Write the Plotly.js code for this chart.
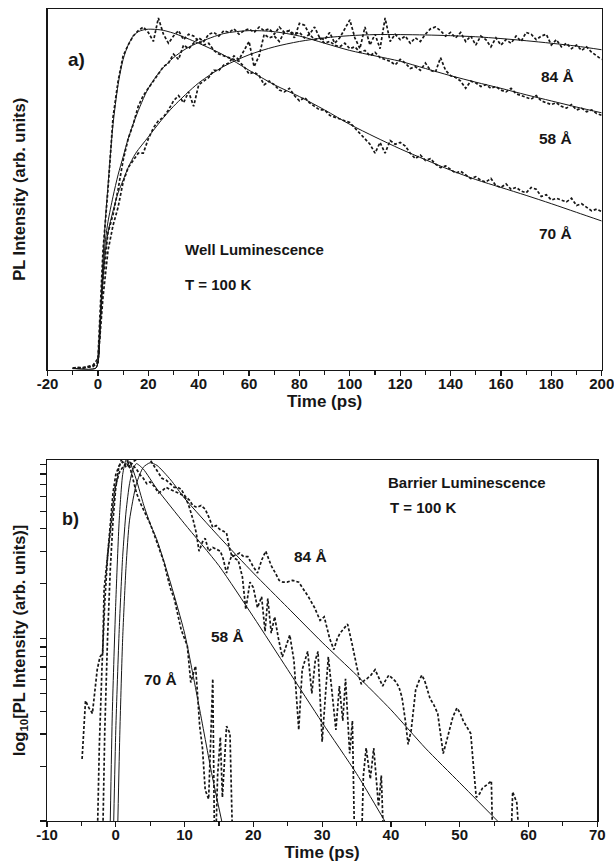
<!DOCTYPE html>
<html>
<head>
<meta charset="utf-8">
<script src="https://cdn.plot.ly/plotly-3.0.1.min.js"></script>
<style>html,body{margin:0;padding:0;background:#fff;}</style>
</head>
<body>
<div id="chart" style="width:614px;height:863px;"></div>
<script>
// ---------- Panel a) Well luminescence (linear, normalized intensity) ----------
const tA = [-10,-8,-6,-4,-2,0,2,4,6,8,10,12,14,16,18,20,22,24,26,28,30,32,34,36,38,40,42,44,46,48,50,52,54,56,58,60,62,64,66,68,70,72,74,76,78,80,82,84,86,88,90,92,94,96,98,100,102,104,106,108,110,112,114,116,118,120,122,124,126,128,130,132,134,136,138,140,142,144,146,148,150,152,154,156,158,160,162,164,166,168,170,172,174,176,178,180,182,184,186,188,190,192,194,196,198,200];

const wellData70 = [0.004,0.006,0.005,0.008,0.012,0.03,0.33,0.5,0.7,0.8,0.87,0.9,0.925,0.94,0.95,0.935,0.91,0.975,0.93,0.905,0.925,0.94,0.915,0.93,0.925,0.91,0.9,0.905,0.885,0.875,0.87,0.865,0.86,0.855,0.84,0.82,0.825,0.815,0.79,0.8,0.79,0.775,0.77,0.78,0.76,0.745,0.755,0.74,0.73,0.72,0.72,0.705,0.7,0.695,0.69,0.685,0.67,0.655,0.64,0.625,0.6,0.63,0.6,0.635,0.625,0.63,0.62,0.6,0.585,0.595,0.58,0.585,0.57,0.56,0.565,0.555,0.545,0.55,0.54,0.53,0.535,0.525,0.52,0.53,0.51,0.505,0.515,0.5,0.505,0.495,0.49,0.505,0.5,0.48,0.485,0.47,0.475,0.47,0.465,0.475,0.455,0.46,0.45,0.44,0.445,0.438];

const wellData58 = [0.003,0.004,0.005,0.006,0.008,0.02,0.25,0.38,0.43,0.5,0.58,0.64,0.68,0.73,0.76,0.78,0.8,0.82,0.84,0.85,0.875,0.86,0.9,0.89,0.905,0.92,0.91,0.93,0.935,0.925,0.94,0.935,0.945,0.93,0.94,0.945,0.935,0.95,0.94,0.945,0.93,0.95,0.935,0.94,0.93,0.935,0.92,0.93,0.915,0.92,0.905,0.91,0.9,0.895,0.905,0.89,0.895,0.88,0.885,0.87,0.88,0.865,0.86,0.855,0.845,0.86,0.85,0.835,0.84,0.83,0.85,0.83,0.825,0.865,0.83,0.815,0.81,0.8,0.78,0.8,0.795,0.785,0.79,0.78,0.785,0.775,0.77,0.78,0.765,0.76,0.755,0.75,0.76,0.745,0.74,0.735,0.74,0.73,0.725,0.735,0.72,0.725,0.715,0.72,0.71,0.705];

const wellData84 = [0.003,0.005,0.004,0.006,0.01,0.02,0.2,0.33,0.4,0.45,0.52,0.56,0.58,0.6,0.6,0.64,0.67,0.69,0.7,0.72,0.745,0.76,0.74,0.77,0.73,0.79,0.8,0.81,0.83,0.83,0.845,0.85,0.87,0.86,0.885,0.91,0.84,0.87,0.93,0.92,0.925,0.91,0.935,0.94,0.92,0.96,0.955,0.93,0.95,0.92,0.915,0.935,0.905,0.92,0.945,0.97,0.92,0.89,0.95,0.9,0.93,0.89,0.975,0.91,0.93,0.915,0.925,0.905,0.92,0.91,0.93,0.945,0.95,0.94,0.925,0.935,0.92,0.935,0.91,0.925,0.9,0.925,0.915,0.895,0.92,0.9,0.915,0.905,0.925,0.91,0.935,0.93,0.915,0.925,0.93,0.9,0.915,0.895,0.905,0.89,0.9,0.885,0.895,0.88,0.87,0.86];

const wellFit70T = [-10,-1,0,1,2,3,4,5,6,8,10,12,14,16,18,20,25,30,40,50,60,70,80,90,100,110,120,130,140,150,160,170,180,190,200];
const wellFit70 = [0.003,0.003,0.02,0.15,0.3,0.42,0.51,0.6,0.68,0.79,0.86,0.9,0.925,0.937,0.942,0.944,0.942,0.933,0.905,0.872,0.83,0.79,0.757,0.72,0.68,0.645,0.612,0.582,0.553,0.527,0.505,0.483,0.46,0.436,0.412];

const wellFit58T = [-10,-1,0,1,2,3,4,6,8,10,12,15,20,25,30,35,40,50,60,70,80,90,100,110,120,130,140,150,160,170,180,190,200];
const wellFit58 = [0.003,0.003,0.02,0.14,0.27,0.36,0.41,0.48,0.54,0.59,0.64,0.7,0.78,0.83,0.865,0.89,0.907,0.932,0.94,0.937,0.925,0.905,0.885,0.87,0.855,0.835,0.815,0.797,0.78,0.762,0.745,0.728,0.712];

const wellFit84T = [-10,-1,0,1,2,3,4,6,8,10,12,15,20,25,30,40,50,60,70,80,90,100,110,120,130,140,150,160,170,180,190,200];
const wellFit84 = [0.003,0.003,0.02,0.13,0.25,0.33,0.38,0.44,0.49,0.525,0.56,0.6,0.645,0.69,0.73,0.795,0.841,0.873,0.895,0.91,0.92,0.926,0.929,0.929,0.928,0.926,0.923,0.918,0.912,0.905,0.897,0.887];

const xTicksA = [-20,0,20,40,60,80,100,120,140,160,180,200];
const xTickTextA = ['-20','0','20','40','60','80','100','120','140','160','180','200'];

// ---------- Panel b) Barrier luminescence (log10 of intensity, read as exponents) ----------
const bar70T = [-2.0,-1.6,-1.2,-0.8,-0.4,0.0,0.4,0.8,1.2,1.6,2.0,2.5,3.0,3.5,4.0,4.5,5.0,5.5,6.0,6.5,7.0,7.5,8.0,8.5,9.0,9.5,10.0,10.4,10.9,11.3,11.6,12.2,12.6,13.0,13.5,14.1,14.4,14.8,15.2,15.5,16.1,16.6,17.1];
const bar70Log = [-2.3,-1.5,-1.0,-0.62,-0.35,-0.17,-0.07,-0.02,-0.005,-0.02,-0.05,-0.12,-0.2,-0.25,-0.29,-0.33,-0.37,-0.42,-0.47,-0.52,-0.58,-0.66,-0.73,-0.78,-0.87,-0.95,-1.0,-1.04,-1.24,-1.18,-1.15,-1.48,-1.6,-1.83,-1.88,-1.22,-2.3,-1.75,-1.54,-1.87,-1.48,-1.52,-2.3];

const bar58T = [-2.8,-2.4,-2.0,-1.6,-1.2,-0.8,-0.4,0.0,0.5,1.0,1.5,2.0,2.5,3.0,3.5,4.0,4.5,5.0,5.6,6.2,6.7,7.3,7.8,8.4,9.0,9.6,10.2,10.7,11.25,11.7,12.1,12.6,13.0,13.5,14.1,14.6,15.2,15.6,16.1,16.5,16.9,17.3,17.8,18.4,18.9,19.5,20.0,20.6,21.2,21.7,22.1,22.6,23.1,23.6,24.2,24.5,25.3,25.9,26.6,27.1,27.9,28.5,29.0,29.4,30.0,30.5,30.9,31.4,32.0,32.5,33.0,33.4,34.0,34.4,34.8,35.6,36.0,36.4,37.0,37.5,38.2,38.6,39.1];
const bar58Log = [-2.3,-1.6,-1.15,-0.8,-0.55,-0.35,-0.2,-0.1,-0.05,-0.03,-0.06,-0.03,-0.05,-0.07,-0.1,-0.12,-0.15,-0.14,-0.165,-0.2,-0.19,-0.17,-0.18,-0.19,-0.2,-0.21,-0.23,-0.28,-0.35,-0.42,-0.52,-0.47,-0.45,-0.52,-0.5,-0.51,-0.52,-0.56,-0.64,-0.58,-0.54,-0.56,-0.57,-0.66,-0.84,-0.69,-0.72,-0.83,-0.77,-0.96,-0.78,-0.97,-0.88,-0.99,-1.1,-1.07,-0.98,-1.12,-1.5,-1.17,-1.07,-1.3,-1.12,-1.07,-1.565,-1.3,-1.1,-1.28,-1.5,-1.26,-1.45,-1.22,-1.63,-1.45,-2.3,-2.3,-1.75,-1.6,-1.77,-1.6,-1.92,-1.75,-2.3];

const bar84T = [-4.9,-4.4,-3.9,-3.4,-2.7,-2.3,-1.9,-1.7,-1.2,-0.6,-0.1,0.5,1.0,1.5,2.0,2.5,3.0,3.5,4.0,4.5,5.0,5.5,6.1,6.7,7.3,7.9,8.5,9.0,9.5,10.1,10.7,11.2,11.8,12.4,13.0,13.6,14.1,14.6,15.1,15.6,16.1,16.5,16.9,17.5,18.0,18.6,19.2,19.9,20.6,21.2,21.8,22.2,22.6,23.2,23.75,24.3,24.9,25.7,26.6,27.3,28.0,28.9,29.7,30.3,31.1,31.7,32.2,32.6,33.2,33.7,34.3,34.8,35.3,35.7,36.1,36.5,37.1,37.7,38.3,38.8,39.2,39.7,40.3,40.8,41.2,41.6,42.1,42.5,42.95,43.6,44.1,44.5,44.9,45.3,45.7,46.2,46.8,47.2,47.6,48.1,48.5,49.0,49.6,50.1,50.5,51.1,51.6,52.0,52.4,52.9,53.3,54.0,54.6,54.9,57.3,57.7,58.3,59.0];
const bar84Log = [-1.66,-1.34,-1.38,-1.41,-1.17,-1.1,-1.08,-0.73,-0.55,-0.33,-0.17,-0.09,-0.06,-0.04,-0.06,-0.03,-0.02,-0.005,-0.01,-0.005,-0.02,-0.05,-0.09,-0.12,-0.13,-0.15,-0.17,-0.17,-0.18,-0.22,-0.24,-0.27,-0.28,-0.27,-0.29,-0.34,-0.39,-0.38,-0.4,-0.41,-0.42,-0.5,-0.55,-0.54,-0.53,-0.55,-0.55,-0.6,-0.64,-0.57,-0.52,-0.56,-0.6,-0.64,-0.68,-0.69,-0.69,-0.68,-0.69,-0.73,-0.77,-0.83,-0.9,-0.88,-1.0,-1.06,-1.0,-0.97,-0.94,-0.92,-1.02,-1.11,-1.2,-1.25,-1.23,-1.22,-1.2,-1.17,-1.22,-1.26,-1.23,-1.2,-1.22,-1.24,-1.27,-1.32,-1.45,-1.58,-1.5,-1.28,-1.23,-1.2,-1.23,-1.28,-1.33,-1.36,-1.41,-1.52,-1.63,-1.56,-1.5,-1.43,-1.38,-1.41,-1.45,-1.49,-1.52,-1.7,-1.87,-1.85,-1.82,-1.8,-1.78,-2.3,-2.3,-1.84,-1.9,-2.3];

const barFit70T = [-0.8,-0.5,0,0.5,1.0,1.5,2,3,4,5,6,8,10,12,14,15.4];
const barFit70Log = [-2,-1.4,-0.8,-0.35,-0.1,-0.02,-0.03,-0.13,-0.26,-0.37,-0.46,-0.7,-0.97,-1.35,-1.75,-2.0];
const barFit58T = [-0.3,0,0.5,1,1.5,2,2.5,3,4,6,10,15,20,25,30,35,39.1];
const barFit58Log = [-2,-1.5,-0.95,-0.55,-0.3,-0.15,-0.07,-0.04,-0.07,-0.18,-0.37,-0.6,-0.88,-1.17,-1.46,-1.74,-2.0];
const barFit84T = [0.3,0.6,1,1.5,2,3,4,5,6,8,10,15,20,25,30,35,40,45,50,55.5];
const barFit84Log = [-2,-1.5,-1.0,-0.6,-0.35,-0.15,-0.06,-0.035,-0.05,-0.13,-0.23,-0.44,-0.64,-0.83,-1.02,-1.2,-1.39,-1.6,-1.79,-2.0];

const xTicksB = [-10,0,10,20,30,40,50,60,70];
const xTickTextB = ['-10','0','10','20','30','40','50','60','70'];
const yTicksB = [0.01,0.02,0.03,0.04,0.05,0.06,0.07,0.08,0.09,0.1,0.2,0.3,0.4,0.5,0.6,0.7,0.8,0.9];

// ---------- build ----------
const toLin = a => a.map(v => Math.pow(10, v));
const bold = a => a.map(s => '<b>' + s + '</b>');
const INK = '#161616';
const dataLine = {color: INK, width: 1.7, dash: '3px,2px'};
const fitLine = {color: INK, width: 1};

const traces = [
  {x: tA, y: wellData70, xaxis:'x', yaxis:'y', mode:'lines', line: dataLine, name:'70 Å data'},
  {x: tA, y: wellData58, xaxis:'x', yaxis:'y', mode:'lines', line: dataLine, name:'58 Å data'},
  {x: tA, y: wellData84, xaxis:'x', yaxis:'y', mode:'lines', line: dataLine, name:'84 Å data'},
  {x: wellFit70T, y: wellFit70, xaxis:'x', yaxis:'y', mode:'lines', line: Object.assign({shape:'spline', smoothing:0.8}, fitLine), name:'70 Å fit'},
  {x: wellFit58T, y: wellFit58, xaxis:'x', yaxis:'y', mode:'lines', line: Object.assign({shape:'spline', smoothing:0.8}, fitLine), name:'58 Å fit'},
  {x: wellFit84T, y: wellFit84, xaxis:'x', yaxis:'y', mode:'lines', line: Object.assign({shape:'spline', smoothing:0.8}, fitLine), name:'84 Å fit'},

  {x: bar70T, y: toLin(bar70Log), xaxis:'x2', yaxis:'y2', mode:'lines', line: dataLine, name:'70 Å barrier'},
  {x: bar58T, y: toLin(bar58Log), xaxis:'x2', yaxis:'y2', mode:'lines', line: dataLine, name:'58 Å barrier'},
  {x: bar84T, y: toLin(bar84Log), xaxis:'x2', yaxis:'y2', mode:'lines', line: dataLine, name:'84 Å barrier'},
  {x: barFit70T, y: toLin(barFit70Log), xaxis:'x2', yaxis:'y2', mode:'lines', line: Object.assign({shape:'spline', smoothing:0.6}, fitLine), name:'70 Å barrier fit'},
  {x: barFit58T, y: toLin(barFit58Log), xaxis:'x2', yaxis:'y2', mode:'lines', line: Object.assign({shape:'spline', smoothing:0.6}, fitLine), name:'58 Å barrier fit'},
  {x: barFit84T, y: toLin(barFit84Log), xaxis:'x2', yaxis:'y2', mode:'lines', line: Object.assign({shape:'spline', smoothing:0.6}, fitLine), name:'84 Å barrier fit'}
];

const FONT = 'Liberation Sans, Arial, Helvetica, sans-serif';
const tickFont = {family: FONT, size: 15, color: INK};
const xTitleFont = {family: FONT, size: 17, color: INK};
const yTitleFont = {family: FONT, size: 16.5, color: INK};
const lblFont = {family: FONT, size: 15.5, color: INK};
const txtFont = {family: FONT, size: 15, color: INK};
const axisCommon = {
  showgrid: false, zeroline: false, linecolor: INK, linewidth: 1.3, mirror: true,
  automargin: false, tickcolor: INK, tickwidth: 1.2, ticklabeloverflow: 'allow'
};

const layout = {
  width: 614, height: 863,
  margin: {l: 47, r: 12, t: 9, b: 42},
  paper_bgcolor: '#fff', plot_bgcolor: '#fff',
  showlegend: false,
  font: {family: FONT, color: INK},
  xaxis: Object.assign({}, axisCommon, {
    domain: [0.001, 0.9995], anchor: 'y', range: [-20, 200],
    tickmode: 'array', tickvals: xTicksA, ticktext: bold(xTickTextA),
    ticks: 'outside', ticklen: 5, tickfont: tickFont, ticklabelstandoff: -5,
    minor: {dtick: 10, tick0: 0, ticks: 'outside', ticklen: 4, tickcolor: INK, tickwidth: 1.2},
    title: {text: '<b>Time (ps)</b>', font: xTitleFont, standoff: 4}
  }),
  yaxis: Object.assign({}, axisCommon, {
    domain: [0.556, 1.0], anchor: 'x', range: [0, 1],
    showticklabels: false, ticks: '',
    title: {text: '<b>PL Intensity (arb. units)</b>', font: yTitleFont, standoff: 16}
  }),
  xaxis2: Object.assign({}, axisCommon, {
    domain: [0, 0.9915], anchor: 'y2', range: [-10, 70],
    tickmode: 'array', tickvals: xTicksB, ticktext: bold(xTickTextB),
    ticks: 'outside', ticklen: 5, tickfont: tickFont, ticklabelstandoff: -5,
    minor: {dtick: 5, tick0: 0, ticks: 'outside', ticklen: 4, tickcolor: INK, tickwidth: 1.2},
    title: {text: '<b>Time (ps)</b>', font: xTitleFont, standoff: 3}
  }),
  yaxis2: Object.assign({}, axisCommon, {
    domain: [0, 0.4446], anchor: 'x2', type: 'log', range: [-2, -0.02],
    tickmode: 'array', tickvals: yTicksB, showticklabels: false,
    ticks: 'outside', ticklen: 6,
    title: {text: '<b>log<sub>10</sub>[PL Intensity (arb. units)]</b>', font: yTitleFont, standoff: 10}
  }),
  annotations: [
    {xref:'x', yref:'y', x:-8.4, y:0.86, text:'<b>a)</b>', showarrow:false, font:{family:FONT, size:19, color:INK}},
    {xref:'x', yref:'y', x:182.6, y:0.812, text:'<b>84 Å</b>', showarrow:false, font:lblFont},
    {xref:'x', yref:'y', x:181.8, y:0.64, text:'<b>58 Å</b>', showarrow:false, font:lblFont},
    {xref:'x', yref:'y', x:181.8, y:0.376, text:'<b>70 Å</b>', showarrow:false, font:lblFont},
    {xref:'x', yref:'y', x:33.7, y:0.332, xanchor:'left', text:'<b>Well Luminescence</b>', showarrow:false, font:txtFont},
    {xref:'x', yref:'y', x:33.7, y:0.237, xanchor:'left', text:'<b>T = 100 K</b>', showarrow:false, font:txtFont},

    {xref:'x2', yref:'y2', x:-6.65, y:-0.345, text:'<b>b)</b>', showarrow:false, font:{family:FONT, size:18, color:INK}},
    {xref:'x2', yref:'y2', x:39.3, y:-0.143, xanchor:'left', text:'<b>Barrier Luminescence</b>', showarrow:false, font:txtFont},
    {xref:'x2', yref:'y2', x:39.6, y:-0.281, xanchor:'left', text:'<b>T = 100 K</b>', showarrow:false, font:txtFont},
    {xref:'x2', yref:'y2', x:28.3, y:-0.547, text:'<b>84 Å</b>', showarrow:false, font:lblFont},
    {xref:'x2', yref:'y2', x:16.3, y:-0.987, text:'<b>58 Å</b>', showarrow:false, font:lblFont},
    {xref:'x2', yref:'y2', x:6.5, y:-1.226, text:'<b>70 Å</b>', showarrow:false, font:lblFont}
  ]
};

Plotly.newPlot('chart', traces, layout, {displayModeBar: false, staticPlot: true});
</script>
</body>
</html>
